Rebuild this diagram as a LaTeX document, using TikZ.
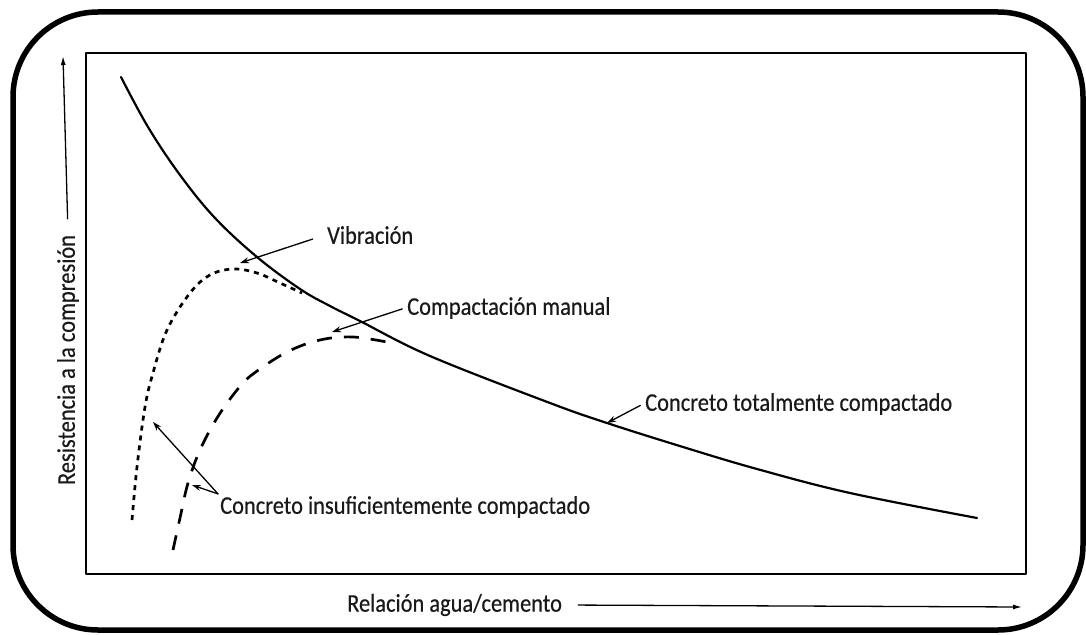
\documentclass[tikz,border=0pt]{standalone}
\usepackage{fontspec}
\setmainfont{Carlito}[FakeStretch=0.88, FakeBold=0.4]
\usetikzlibrary{arrows.meta}

\begin{document}
\begin{tikzpicture}[x=1pt, y=-1pt, line join=round, line cap=round,
    fleche/.style={line width=1.3pt, -{Stealth[length=9pt,width=6pt]}},
    axe/.style={line width=1.3pt, -{Latex[length=9pt,width=5pt]}},
    etiq/.style={inner sep=2pt, text=black!90, font=\fontsize{25.5}{29}\selectfont}]

    \useasboundingbox (0,0) rectangle (1086,634);

    % Cadre extérieur arrondi
    \draw[black, line width=5.5pt, rounded corners=85pt] (13,12) rectangle (1083,630);

    % Cadre du graphique
    \draw[black, line width=1.8pt] (86,53) rectangle (1026,574);

    % Axes et leurs textes
    \coordinate (Yh) at (63,56);
    \coordinate (Xd) at (1022,607);
    \node[etiq, rotate=90] (ylab) at (68,360) {Resistencia a la compresión};
    \node[etiq, anchor=west] (xlab) at (345,605) {Relación agua/cemento};
    \draw[axe, shorten <=14pt] (ylab.east) -- (Yh);
    \draw[axe, shorten <=14pt] (xlab.east) -- (Xd);

    % Concreto totalmente compactado (trait plein)
    \draw[black, line width=2.2pt] plot[smooth, tension=0.6] coordinates {
        (121,77) (148,127) (180,175) (215,218) (257,257) (300,289) (330,306)
        (360,321) (430,356) (550,403) (607,423) (683,447) (757,469) (850,493)
        (977,518)};

    % Vibración (pointillé)
    \draw[black, line width=2.7pt, line cap=butt, dash pattern=on 5pt off 5pt]
        plot[smooth, tension=0.6] coordinates {
        (132,520) (137,467) (145,407) (153,373) (167,330) (190,293) (210,275)
        (233,269) (257,273) (280,283) (302,293)};

    % Compactación manual (tirets)
    \draw[black, line width=2.7pt, line cap=butt, dash pattern=on 15pt off 12pt]
        plot[smooth, tension=0.6] coordinates {
        (173,550) (180,518) (188,483) (200,450) (217,418) (237,390) (253,374)
        (287,352) (320,340) (353,337) (392,343)};

    % Textes et flèches
    \node[etiq, anchor=west] (vib) at (325,235) {Vibración};
    \node[etiq, anchor=west] (man) at (405,308) {Compactación manual};
    \node[etiq, anchor=west] (tot) at (643,404) {Concreto totalmente compactado};
    \node[etiq, anchor=west] (ins) at (218,507) {Concreto insuficientemente compactado};

    \coordinate (pvib) at (240,263);
    \coordinate (pman) at (332,332);
    \coordinate (ptot) at (607,423);
    \coordinate (pins1) at (153,422);
    \coordinate (pins2) at (192,485);

    \draw[fleche, shorten <=13pt] (vib.west) -- (pvib);
    \draw[fleche, shorten <=3pt] (man.west) -- (pman);
    \draw[fleche, shorten <=3pt] (tot.west) -- (ptot);
    \draw[fleche] (ins.north west) -- (pins1);
    \draw[fleche] (ins.north west) -- (pins2);

\end{tikzpicture}
\end{document}
